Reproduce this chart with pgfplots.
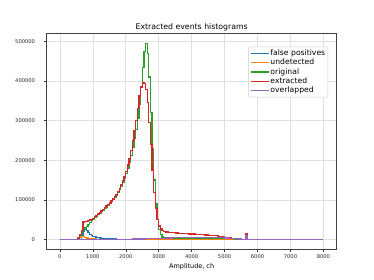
\documentclass[border=0pt]{standalone}
\usepackage{pgfplots}
\pgfplotsset{compat=1.18}
\usepackage{fontspec}
\setmainfont{DejaVu Sans}
\definecolor{c0}{HTML}{1F77B4}
\definecolor{c1}{HTML}{FF7F0E}
\definecolor{c2}{HTML}{2CA02C}
\definecolor{c3}{HTML}{D62728}
\definecolor{c4}{HTML}{9467BD}
\begin{document}
\begin{tikzpicture}
\useasboundingbox (-46.7bp,-30.8bp) rectangle (327.3bp,249.2bp);
\begin{axis}[
  at={(0,0)}, anchor=south west,
  scale only axis, width=289.9bp, height=215.6bp,
  xmin=-400, xmax=8400, ymin=-24750, ymax=519750,
  xtick={0,1000,...,8000},
  ytick={0,100000,200000,300000,400000,500000},
  scaled y ticks=false, scaled x ticks=false,
  /pgf/number format/assume math mode=true,
  xticklabel style={/pgf/number format/fixed,/pgf/number format/1000 sep={}, anchor=north, inner sep=0pt, yshift=-2.5bp},
  yticklabel style={/pgf/number format/fixed,/pgf/number format/1000 sep={}, anchor=east, inner sep=0pt, xshift=-8.5bp},
  tick label style={font=\fontsize{5.2}{6}\selectfont, text=black!85},
  xtick pos=bottom, ytick pos=left,
  tick align=outside, major tick length=3bp,
  tick style={black!80, line width=0.5bp},
  grid=major, grid style={black!12, line width=0.6bp},
  axis line style={black!75, line width=0.8bp},
  xlabel={Amplitude, ch},
  xlabel style={at={(axis description cs:0.5,0)}, anchor=base, yshift=-18.9bp, font=\fontsize{6.5}{8}\selectfont, inner sep=0pt},
  legend style={at={(0.971,0.939)}, anchor=north east, draw=black!20, line width=0.5bp, rounded corners=1.5bp,
    font=\fontsize{7.7}{9}\selectfont, inner xsep=1.5bp, inner ysep=1.5bp,
    nodes={inner sep=1.2bp}, row sep=-0.4bp},
  legend cell align=left,
  legend image code/.code={\draw[#1, line width=1.4bp] (0bp,0bp) -- (17.7bp,0bp);},
  every axis plot/.append style={const plot, line width=1.3bp},
]
% false positives
\addplot[c0] coordinates {
(0,0)(650,0)(650,8000)(700,20000)(750,26000)(800,22000)(850,17000)(900,13000)(950,10000)(1000,8000)(1050,6500)(1100,5500)(1150,4500)(1200,3500)(1250,2800)(1300,2200)(1400,1500)(1500,1100)(1600,800)(1700,600)(1800,400)(2000,200)(2500,0)(8000,0)};
\addlegendentry{false positives}
% undetected
\addplot[c1] coordinates {
(0,0)(600,6000)(650,8000)(700,6500)(750,5000)(800,3500)(850,2500)(900,1500)(950,1100)(1000,800)(1100,300)(1200,0)(8000,0)};
\addlegendentry{undetected}
% original
\addplot[c2] coordinates {
(0,0)(550,4000)(600,11000)(650,18000)(700,25000)(750,29000)(800,33000)(850,38000)(900,42000)(950,47000)
(1000,51000)(1050,55000)(1100,58000)(1150,62000)(1200,66000)(1250,70000)(1300,74000)(1350,78000)(1400,82000)(1450,86000)
(1500,90000)(1550,95000)(1600,100000)(1650,106000)(1700,112000)(1750,119000)(1800,126000)(1850,135000)(1900,144000)(1950,155000)
(2000,166000)(2050,180000)(2100,195000)(2150,212000)(2200,232000)(2250,255000)(2300,278000)(2350,305000)(2400,340000)(2450,385000)
(2500,435000)(2550,475000)(2600,495000)(2650,470000)(2700,410000)(2750,320000)(2800,230000)(2850,150000)(2900,90000)(2950,50000)
(3000,25000)(3050,12000)(3100,6000)(3150,3800)(3200,3200)(3300,3300)(3400,3400)(3500,3500)(3700,3600)(3900,3600)(4100,3500)(4300,3300)(4500,3000)(4700,2600)(4900,2100)(5100,1500)(5300,800)(5500,0)(8000,0)};
\addlegendentry{original}
% extracted
\addplot[c3] coordinates {
(0,0)(550,3000)(600,12000)(650,22000)(700,44000)(750,46000)(800,46000)(850,47000)(900,49000)(950,51000)
(1000,53000)(1050,57000)(1100,60000)(1150,64000)(1200,68000)(1250,72000)(1300,76000)(1350,80000)(1400,84000)(1450,88000)
(1500,92000)(1550,97000)(1600,102000)(1650,108000)(1700,114000)(1750,121000)(1800,129000)(1850,138000)(1900,148000)(1950,159000)
(2000,172000)(2050,188000)(2100,205000)(2150,225000)(2200,250000)(2250,275000)(2300,300000)(2350,330000)(2400,362000)(2450,385000)
(2500,395000)(2550,393000)(2600,378000)(2650,345000)(2700,295000)(2750,240000)(2800,175000)(2850,118000)(2900,78000)(2950,50000)
(3000,34000)(3050,26000)(3100,22000)(3150,20000)(3200,18500)(3300,17500)(3400,16800)(3500,16000)(3600,15500)(3700,15000)(3800,14500)(3900,14000)(4000,13500)(4100,13000)(4200,12500)(4300,12000)
(4400,11200)(4500,10500)(4600,9800)(4700,9000)(4800,8000)(4900,6800)(5000,5500)(5100,4300)(5200,3000)(5300,2000)(5400,1000)(5500,400)(5600,0)(5650,14000)(5700,0)(8000,0)};
\addlegendentry{extracted}
% overlapped
\addplot[c4] coordinates {
(0,0)(1800,300)(2000,500)(2200,800)(2400,1200)(2600,1700)(2800,2300)(3000,3000)(3200,3600)(3400,4200)(3600,4700)(3800,5100)(4000,5400)(4200,5600)(4400,5500)(4600,5200)(4800,4600)(5000,3800)(5100,3000)(5200,2200)(5300,1400)(5400,700)(5500,0)(5650,10000)(5700,0)(8000,0)};
\addlegendentry{overlapped}
\end{axis}
\node[anchor=base, font=\fontsize{7.8}{9}\selectfont, inner sep=0pt] at (144.95bp,219.5bp) {Extracted events histograms};
\end{tikzpicture}
\end{document}
